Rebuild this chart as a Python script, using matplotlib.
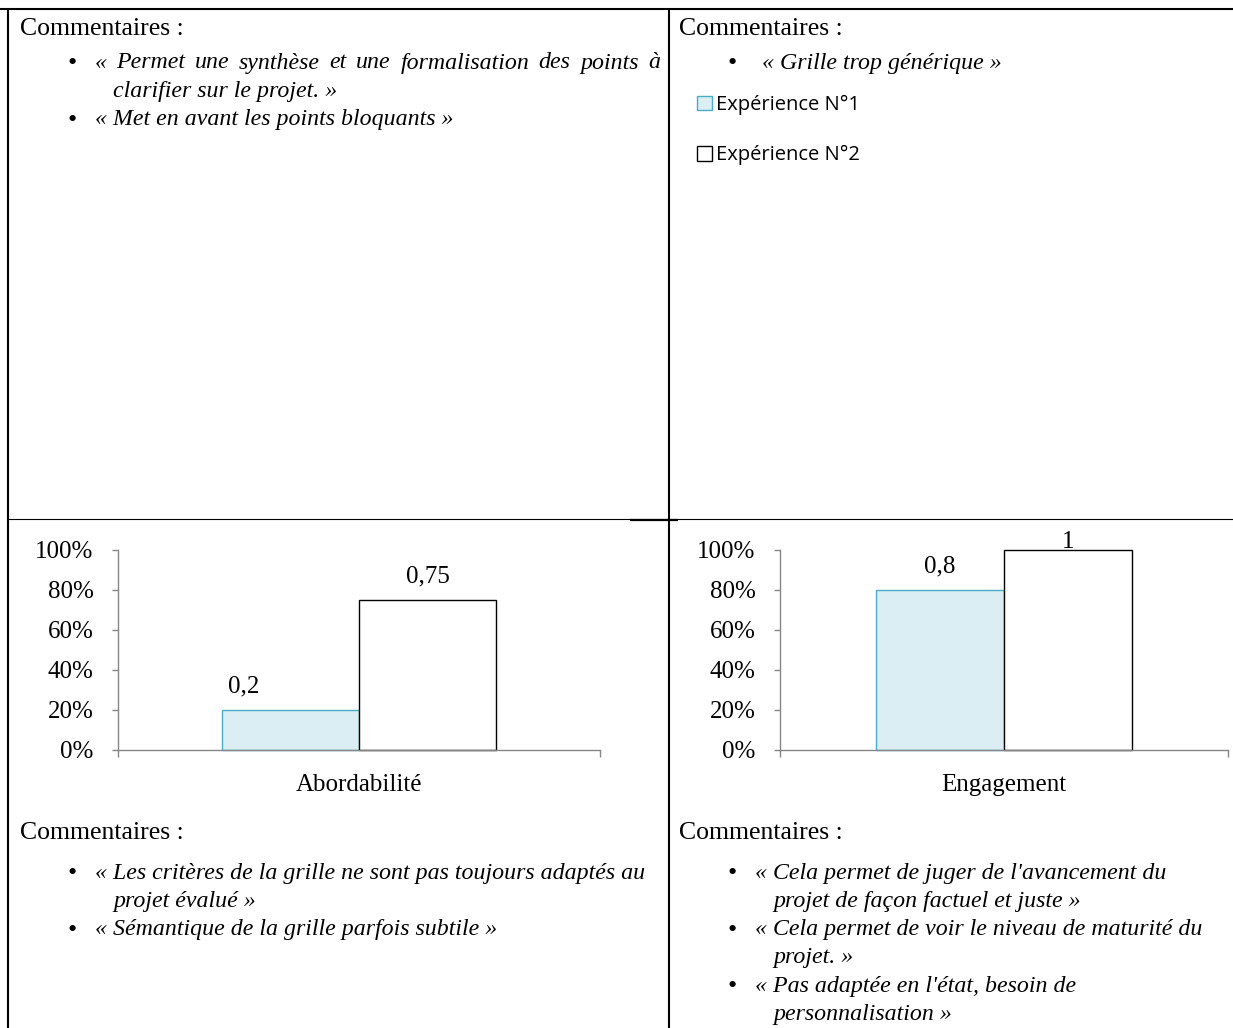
import matplotlib
matplotlib.use("Agg")
import matplotlib.pyplot as plt
import matplotlib.transforms as mtransforms
from matplotlib.ticker import PercentFormatter

W, H = 1233, 1028

# data
criteres = ["Abordabilité", "Engagement"]
series = ["Expérience N°1", "Expérience N°2"]
exp1 = [0.2, 0.8]
exp2 = [0.75, 1.0]

com_top_left = [
    ["« Permet une synthèse et une formalisation des points à", "clarifier sur le projet. »"],
    ["« Met en avant les points bloquants »"],
]
com_top_right = [
    ["« Grille trop générique »"],
]
com_bot_left = [
    ["« Les critères de la grille ne sont pas toujours adaptés au", "projet évalué »"],
    ["« Sémantique de la grille parfois subtile »"],
]
com_bot_right = [
    ["« Cela permet de juger de l'avancement du", "projet de façon factuel et juste »"],
    ["« Cela permet de voir le niveau de maturité du", "projet. »"],
    ["« Pas adaptée en l'état, besoin de", "personnalisation »"],
]

plt.rcParams['font.family'] = ['Liberation Serif', 'DejaVu Serif']
BLUE_FILL, BLUE_EDGE = '#DAEEF3', '#4BACC6'
AXIS_GREY = '#868686'

fig = plt.figure(figsize=(W / 100, H / 100), dpi=100)
fig.patch.set_facecolor('white')

# overlay in pixel coordinates for the table and the comments
ov = fig.add_axes([0, 0, 1, 1], zorder=0)
ov.set_xlim(0, W)
ov.set_ylim(H, 0)
ov.axis('off')

# table borders
ov.plot([0, W], [8.5, 8.5], color='black', lw=1.5, solid_capstyle='butt')
ov.plot([7.5, 7.5], [8, H], color='black', lw=1.5, solid_capstyle='butt')
ov.plot([669, 669], [8, H], color='black', lw=1.5, solid_capstyle='butt')
ov.plot([8, W], [519, 519], color='black', lw=0.8, solid_capstyle='butt')
ov.plot([630, 678], [519.5, 519.5], color='black', lw=1.6, solid_capstyle='butt')

renderer = fig.canvas.get_renderer()


def justified(x0, x1, y, line, **kw):
    words = line.split(' ')
    texts = [ov.text(0, y, w, **kw) for w in words]
    widths = [t.get_window_extent(renderer).width for t in texts]
    gap = (x1 - x0 - sum(widths)) / (len(words) - 1)
    x = x0
    for t, w in zip(texts, widths):
        t.set_x(x)
        x += w + gap


def comments(x_title, y_title, x_bullet, x_text, y_first, items, justify_to=None):
    ov.text(x_title, y_title, "Commentaires :", fontsize=18.5, va='center', ha='left')
    y = y_first
    it_kw = dict(fontsize=17.2, style='italic', va='center', ha='left')
    for item in items:
        ov.text(x_bullet, y + 1, "•", fontsize=19, va='center', ha='center')
        for k, line in enumerate(item):
            if k == 0 and justify_to is not None and len(item) > 1:
                justified(x_text, justify_to, y, line, **it_kw)
            else:
                ov.text(x_text + (18 if k else 0), y, line, **it_kw)
            y += 28.3


comments(20, 29, 72, 95, 63, com_top_left, justify_to=660)
comments(679, 29, 732, 762, 63, com_top_right)
comments(20, 833, 72, 95, 873, com_bot_left)
comments(679, 833, 732, 755, 873, com_bot_right)


def fmt(v):
    return f"{v:g}".replace('.', ',')


# charts
boxes = [(118, 600), (780, 1228)]
label_dx = [(-47, 0), (0, 0)]
w = 0.285
handles = None
for i, (crit, (xl, xr)) in enumerate(zip(criteres, boxes)):
    ax = fig.add_axes([xl / W, 1 - 750 / H, (xr - xl) / W, 200 / H], zorder=2)
    ax.patch.set_alpha(0)
    b1 = ax.bar([-w / 2], [exp1[i]], width=w, color=BLUE_FILL, edgecolor=BLUE_EDGE,
                linewidth=1.0, clip_on=False, label=series[0])
    b2 = ax.bar([w / 2], [exp2[i]], width=w, color='white', edgecolor='black',
                linewidth=1.0, clip_on=False, label=series[1])
    handles = [b1, b2]
    for j, (xb, v) in enumerate([(-w / 2, exp1[i]), (w / 2, exp2[i])]):
        tr = mtransforms.offset_copy(ax.transData, fig=fig, x=label_dx[i][j], y=0, units='dots')
        ax.text(xb, min(v + 0.09, 1.01), fmt(v), transform=tr, ha='center', va='baseline',
                fontsize=18)
    ax.set_xlim(-0.5, 0.5)
    ax.set_ylim(0, 1)
    ax.set_yticks([0, 0.2, 0.4, 0.6, 0.8, 1.0])
    ax.yaxis.set_major_formatter(PercentFormatter(1.0, decimals=0))
    ax.set_xticks([-0.5, 0.5])
    ax.set_xticklabels([])
    ax.set_xticks([0], minor=True)
    ax.set_xticklabels([crit], minor=True)
    for s in ['top', 'right']:
        ax.spines[s].set_visible(False)
    for s in ['left', 'bottom']:
        ax.spines[s].set_color(AXIS_GREY)
        ax.spines[s].set_linewidth(1.0)
    ax.tick_params(axis='y', direction='out', length=4.5, width=1.0, color=AXIS_GREY,
                   labelsize=18, pad=13)
    ax.tick_params(axis='x', which='major', direction='out', length=5, width=1.0, color=AXIS_GREY)
    ax.tick_params(axis='x', which='minor', length=0, labelsize=18, pad=17)

leg = fig.legend(handles=handles, labels=series, loc='upper left',
                 bbox_to_anchor=(697 / W, 1 - 95 / H), frameon=False,
                 prop={'family': 'Open Sans', 'size': 14.5}, handlelength=0.72,
                 handleheight=0.72, handletextpad=0.2, labelspacing=1.5,
                 borderpad=0, borderaxespad=0)

fig.savefig('out.png', dpi=100)
